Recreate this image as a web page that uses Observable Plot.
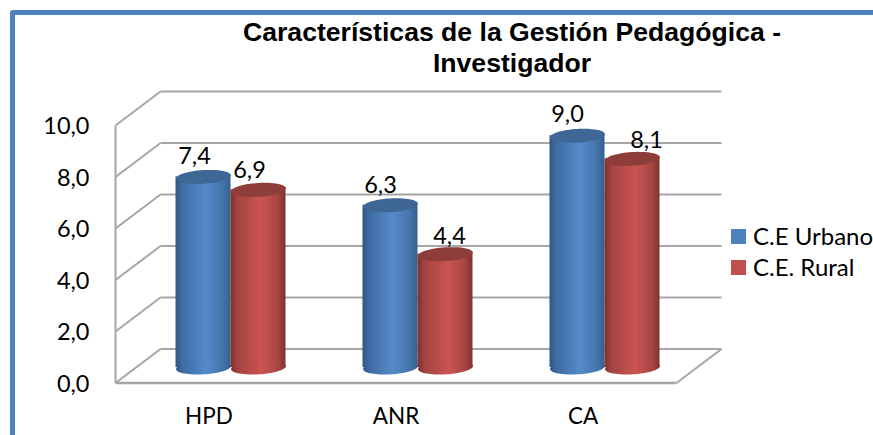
<!DOCTYPE html>
<html>
<head>
<meta charset="utf-8">
<script src="https://cdn.jsdelivr.net/npm/d3@7"></script>
<script src="https://cdn.jsdelivr.net/npm/@observablehq/plot@0.6"></script>
<style>
html,body{margin:0;padding:0;background:#fff;overflow:hidden;width:873px;height:435px}
#frame{position:absolute;left:10px;top:10px;width:900px;height:460px;border:5px solid #4f81bd;border-radius:3px;box-sizing:border-box}
#chart{position:absolute;left:0;top:0}
#title{position:absolute;left:192px;width:640px;top:17px;text-align:center;font:bold 26.6px/31px "Liberation Sans",Arial,sans-serif;color:#000}
#legend{position:absolute;left:731px;top:220px;font:24px/31px Lato,sans-serif;color:#000;white-space:nowrap}
#legend div{position:relative;padding-left:22px}
#legend i{position:absolute;left:0;top:9px;width:15px;height:15px}
</style>
</head>
<body>
<div id="frame"></div>
<div id="chart"></div>
<div id="title">Características de la Gestión Pedagógica -<br>Investigador</div>
<div id="legend"></div>
<script>
const categories = ["HPD", "ANR", "CA"];
const seriesNames = ["C.E Urbano", "C.E. Rural"];
const urbano = [7.4, 6.3, 9.0];
const rural = [6.9, 4.4, 8.1];
const yTicks = [0, 2, 4, 6, 8, 10];
const colors = ["#4f81bd", "#c0504d"];
const topColors = ["#3e6796", "#8f3d3b"];

// 3D box depth and bar placement, in data units of the two scales
const depthX = 45 / 187, depthY = 34 / 25.75;
const floorX = 22 / 187, floorY = 15.5 / 25.75;
const barW = 55 / 187;

const table = [];
categories.forEach((c, i) => {
  [urbano[i], rural[i]].forEach((v, s) => {
    const x1 = i + 0.5 + floorX + (s - 1) * barW;
    table.push({category: c, series: s, value: v, x1, x2: x1 + barW, xc: x1 + barW / 2, y1: floorY, y2: v + floorY});
  });
});
const fmt = v => d3.format(".1f")(v).replace(".", ",");

// tilted ellipse symbol for the caps of the cylinders
const cap = {
  draw(ctx, size) {
    const rx = Math.sqrt(size / Math.PI), ry = rx * 0.25, t = -0.06;
    for (let k = 0; k <= 64; ++k) {
      const a = k / 64 * 2 * Math.PI, ex = rx * Math.cos(a), ey = ry * Math.sin(a);
      const px = ex * Math.cos(t) - ey * Math.sin(t), py = ex * Math.sin(t) + ey * Math.cos(t);
      k ? ctx.lineTo(px, py) : ctx.moveTo(px, py);
    }
    ctx.closePath();
  }
};

const defs = () => {
  const ns = "http://www.w3.org/2000/svg";
  const d = document.createElementNS(ns, "defs");
  const mk = (id, stops) => {
    const g = document.createElementNS(ns, "linearGradient");
    g.setAttribute("id", id);
    stops.forEach(([o, c]) => {
      const s = document.createElementNS(ns, "stop");
      s.setAttribute("offset", o); s.setAttribute("stop-color", c);
      g.appendChild(s);
    });
    d.appendChild(g);
  };
  mk("g0", [[0, "#2f5685"], [0.12, "#3f6ca3"], [0.55, "#558aca"], [0.85, "#4575ac"], [1, "#34608f"]]);
  mk("g1", [[0, "#7a302e"], [0.12, "#a24341"], [0.55, "#cb5451"], [0.85, "#a94644"], [1, "#7f3331"]]);
  return d;
};

const grid = "#a6a6a6";
const bars = [];
for (const d of table) {
  const one = [d], fill = `url(#g${d.series})`;
  bars.push(
    Plot.rectY(one, {x1: "x1", x2: "x2", y1: "y1", y2: "y2", fill, inset: 0}),
    Plot.dot(one, {x: "xc", y: "y1", r: 27.5, symbol: cap, fill, stroke: "none"}),
    Plot.dot(one, {x: "xc", y: "y2", r: 27.5, symbol: cap, fill: topColors[d.series], stroke: "none"})
  );
}

const labelNudge = [-9, -9, -10, 4, -10, 14];
const labelLift = [-20, -19, -20, -18, -21, -18];
const labels = table.map((d, i) =>
  Plot.text([d], {x: "xc", y: "y2", text: d => fmt(d.value), dx: labelNudge[i], dy: labelLift[i],
    fontSize: 23.5, fontFamily: "Lato, sans-serif", fill: "#000"}));

const wall = yTicks.map(v => ({v}));
const plot = Plot.plot({
  width: 873, height: 435,
  marginLeft: 115, marginRight: 197, marginTop: 125, marginBottom: 52.5,
  style: {background: "transparent", overflow: "visible"},
  x: {domain: [0, 3], axis: null},
  y: {domain: [0, 10], axis: null},
  marks: [
    defs,
    // back wall lines and their diagonals
    Plot.link(wall, {x1: depthX, x2: 3 + depthX, y1: d => d.v + depthY, y2: d => d.v + depthY, stroke: grid, strokeWidth: 2}),
    Plot.link(wall, {x1: 0, x2: depthX, y1: "v", y2: d => d.v + depthY, stroke: grid, strokeWidth: 2}),
    // floor and front axis
    Plot.link([0], {x1: 3, x2: 3 + depthX, y1: 0, y2: depthY, stroke: grid, strokeWidth: 2}),
    Plot.link([0], {x1: 0, x2: 3, y1: 0, y2: 0, stroke: grid, strokeWidth: 2.5}),
    Plot.link([0], {x1: 0, x2: 0, y1: 0, y2: 10, stroke: grid, strokeWidth: 2}),
    ...bars,
    ...labels,
    Plot.axisY({ticks: yTicks, tickFormat: fmt, tickSize: 0, tickPadding: 26, dy: 1, fontSize: 23.5, fontFamily: "Lato, sans-serif", fill: "#000", label: null}),
    Plot.axisX({ticks: [0.5, 1.5, 2.5], tickFormat: v => categories[Math.floor(v)], tickSize: 0, tickPadding: 25, fontSize: 22.5, fontFamily: "Lato, sans-serif", fill: "#000", label: null})
  ]
});
document.getElementById("chart").appendChild(plot);

document.getElementById("legend").innerHTML = seriesNames.map((n, i) =>
  `<div><i style="background:${colors[i]}"></i>${n}</div>`).join("");
</script>
</body>
</html>
